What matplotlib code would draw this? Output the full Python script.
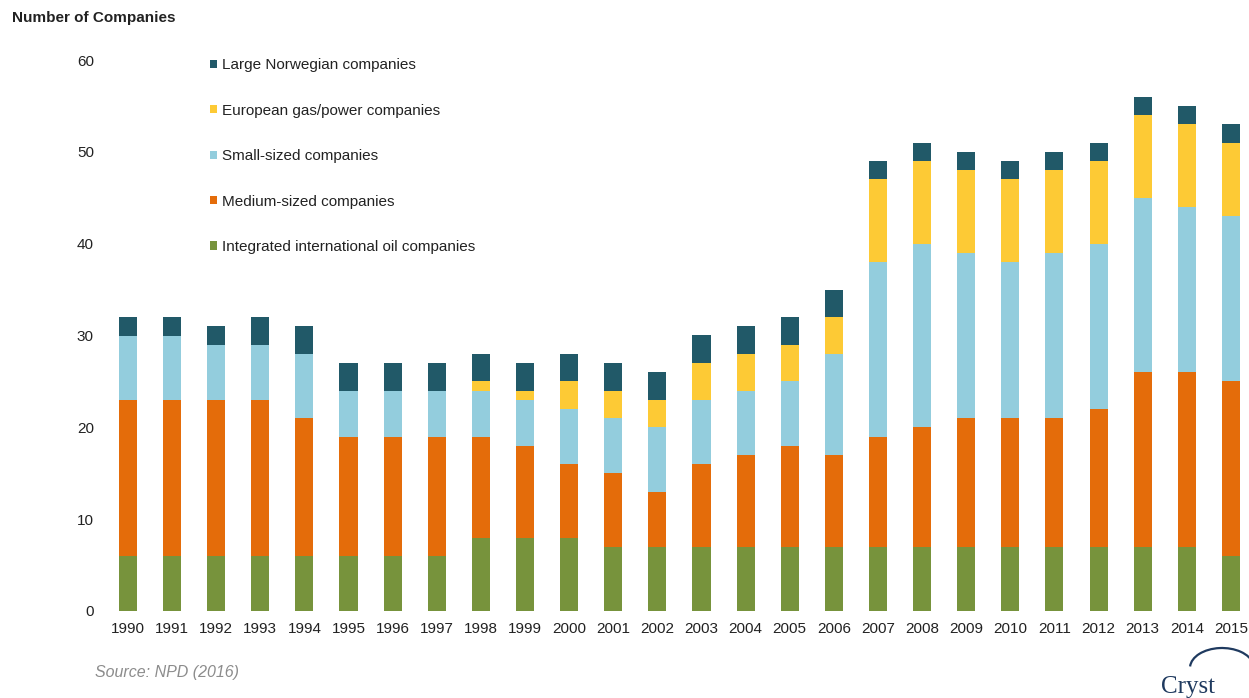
import numpy as np
import matplotlib.pyplot as plt
from matplotlib.patches import Arc

years = [str(y) for y in range(1990, 2016)]

# company counts per group, bottom to top of each stack
integrated = [6, 6, 6, 6, 6, 6, 6, 6, 8, 8, 8, 7, 7, 7, 7, 7, 7, 7, 7, 7, 7, 7, 7, 7, 7, 6]
medium = [17, 17, 17, 17, 15, 13, 13, 13, 11, 10, 8, 8, 6, 9, 10, 11, 10, 12, 13, 14, 14, 14, 15, 19, 19, 19]
small = [7, 7, 6, 6, 7, 5, 5, 5, 5, 5, 6, 6, 7, 7, 7, 7, 11, 19, 20, 18, 17, 18, 18, 19, 18, 18]
european = [0, 0, 0, 0, 0, 0, 0, 0, 1, 1, 3, 3, 3, 4, 4, 4, 4, 9, 9, 9, 9, 9, 9, 9, 9, 8]
norwegian = [2, 2, 2, 3, 3, 3, 3, 3, 3, 3, 3, 3, 3, 3, 3, 3, 3, 2, 2, 2, 2, 2, 2, 2, 2, 2]

series = [
    ('Integrated international oil companies', integrated, '#77933c'),
    ('Medium-sized companies', medium, '#e46c0a'),
    ('Small-sized companies', small, '#93cddd'),
    ('European gas/power companies', european, '#fdca35'),
    ('Large Norwegian companies', norwegian, '#215968'),
]

plt.rcParams['font.family'] = ['Liberation Sans', 'DejaVu Sans']

fig = plt.figure(figsize=(12.49, 6.98), dpi=100)
ax = fig.add_axes([105 / 1249, 87 / 698, 1144 / 1249, 551 / 698])

x = np.arange(len(years))
bottom = np.zeros(len(years))
handles = []
for name, vals, col in series:
    b = ax.bar(x, vals, width=0.41, bottom=bottom, color=col, label=name, linewidth=0)
    handles.append(b)
    bottom += np.array(vals)

ax.set_xlim(-0.52, 25.41)
ax.set_ylim(0, 60)
ax.set_yticks(range(0, 61, 10))
ax.set_xticks(x)
ax.set_xticklabels(years)
ax.tick_params(length=0, labelsize=11, colors='#222222')
ax.tick_params(axis='y', pad=8)
ax.tick_params(axis='x', pad=8)
for s in ax.spines.values():
    s.set_visible(False)

leg = ax.legend(handles[::-1], [s[0] for s in series][::-1],
                loc='upper left', bbox_to_anchor=(204 / 1249, 1 - 52 / 698),
                bbox_transform=fig.transFigure, frameon=False, fontsize=11,
                handlelength=0.45, handleheight=0.45, handletextpad=0.3,
                labelspacing=2.06, borderaxespad=0)
for t in leg.get_texts():
    t.set_color('#222222')

fig.text(12 / 1249, 1 - 18 / 698, 'Number of Companies', fontsize=11,
         fontweight='bold', va='center', color='#222222')
fig.text(95 / 1249, 1 - 672 / 698, 'Source: NPD (2016)', fontsize=11.5,
         style='italic', va='center', color='#8c8c8c')

# logo at the lower right corner
fig.text(1161 / 1249, 1 - 693 / 698, 'Cryst', fontsize=18, va='baseline',
         family='Liberation Serif', color='#1f3a5f')
fig.add_artist(Arc((1222 / 1249, 1 - 668 / 698), 64 / 1249, 40 / 698,
                   theta1=15, theta2=175, transform=fig.transFigure,
                   color='#1f3a5f', lw=1.6))

fig.savefig('out.png', dpi=100)
